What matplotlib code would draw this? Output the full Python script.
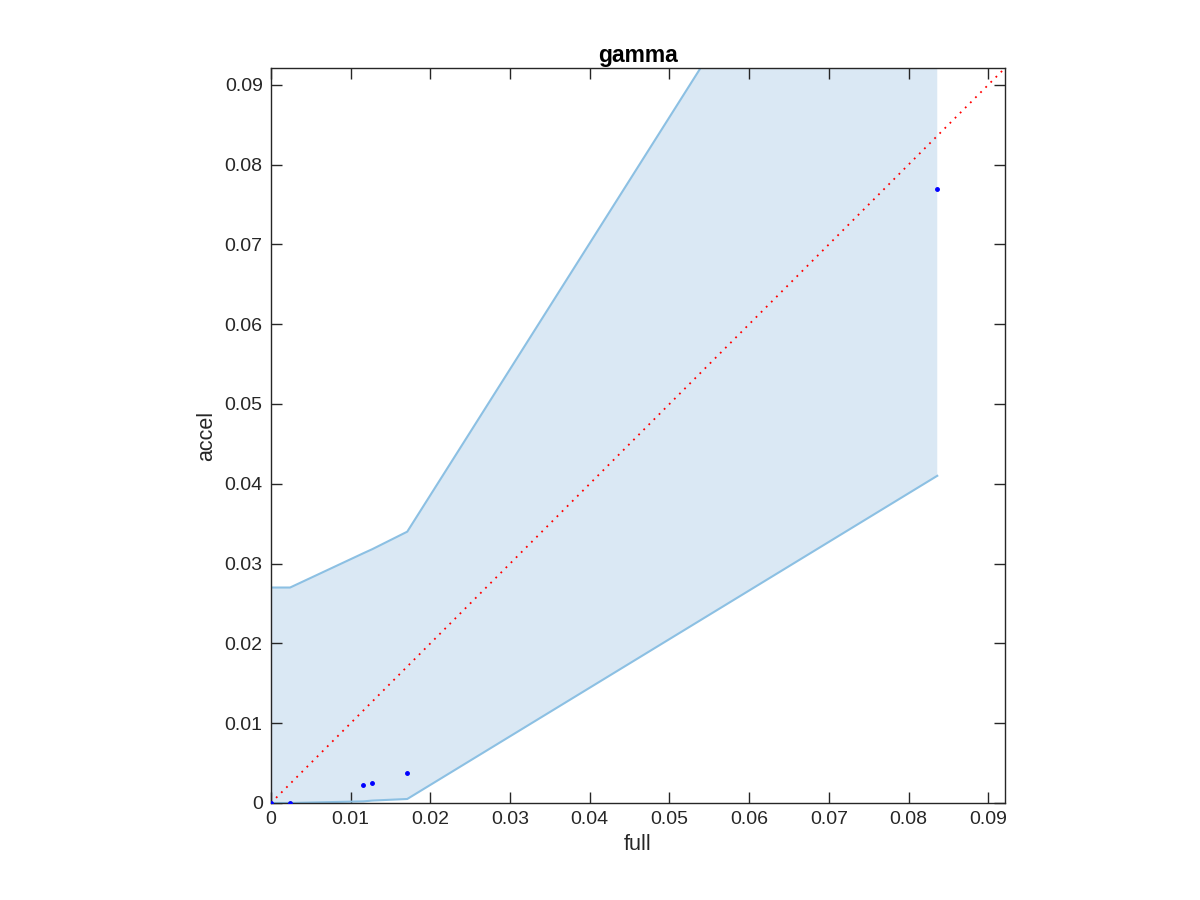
import matplotlib
matplotlib.use('Agg')
import matplotlib.pyplot as plt
import numpy as np

plt.rcParams['font.family'] = ['Liberation Sans', 'DejaVu Sans']

# datos
full = [0.0, 0.0024, 0.0116, 0.0127, 0.0171, 0.0836]
accel = [0.0, 0.0, 0.0023, 0.0025, 0.0037, 0.0769]
upper = [0.027, 0.027, 0.0313, 0.0318, 0.034, 0.139]
lower = [0.0, 0.0, 0.0002, 0.0003, 0.0005, 0.041]
ticks = [0, 0.01, 0.02, 0.03, 0.04, 0.05, 0.06, 0.07, 0.08, 0.09]
tick_labels = ['0', '0.01', '0.02', '0.03', '0.04', '0.05', '0.06', '0.07', '0.08', '0.09']
lim = 0.0921

fig = plt.figure(figsize=(12, 9), dpi=100)
ax = fig.add_axes([0.2258, 0.1078, 0.6117, 0.8166])

band_face = '#dae8f4'
band_edge = '#8cc0e3'
ax.fill_between(full, lower, upper, facecolor=band_face, edgecolor='none', zorder=1)
ax.plot(full, upper, color=band_edge, lw=1.5, zorder=2)
ax.plot(full, lower, color=band_edge, lw=1.5, zorder=2)

ax.plot([0, lim], [0, lim], color='red', ls=(0, (1, 3)), lw=1.3, zorder=3)
ax.plot(full, accel, 'o', color='blue', ms=2.5, zorder=4)

ax.set_xlim(0, lim)
ax.set_ylim(0, lim)
ax.set_xticks(ticks)
ax.set_xticklabels(tick_labels)
ax.set_yticks(ticks)
ax.set_yticklabels(tick_labels)

axis_col = '#262626'
for s in ax.spines.values():
    s.set_color(axis_col)
    s.set_linewidth(1.0)
ax.tick_params(direction='in', length=8, width=1, colors=axis_col,
               labelsize=14, top=True, right=True)
ax.tick_params(axis='x', pad=6)
ax.tick_params(axis='y', pad=6)

ax.set_xlabel('full', fontsize=15.5, color=axis_col, labelpad=4)
ax.set_ylabel('accel', fontsize=15.5, color=axis_col, labelpad=5)
ax.set_title('gamma', fontsize=16.5, fontweight='bold', pad=4)

plt.savefig('out.png', dpi=100)
